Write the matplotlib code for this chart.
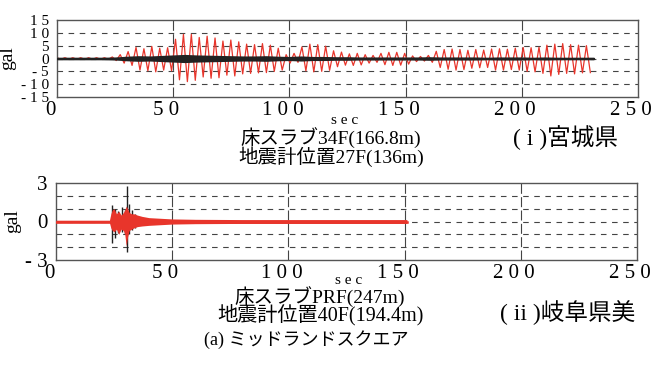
import numpy as np
import matplotlib
matplotlib.use("Agg")
import matplotlib.pyplot as plt
from matplotlib.transforms import ScaledTranslation

# (i) 34F slab: red = slab response, peaks per cycle (gal)
RED_PERIOD = 3.4
red_up = [0.3, 0.3, 0.3, 0.3, 0.3, 0.3, 0.3, 0.6, 1.5, 2.7,
          4.3, 3.8, 4.7, 4.0, 4.2, 7.5, 9.4, 9.4, 8.2, 8.7,
          8.0, 6.8, 7.2, 6.5, 5.6, 5.4, 5.8, 5.2, 4.0, 1.5,
          2.0, 4.5, 5.6, 5.4, 4.8, 3.0, 2.5, 1.8, 2.0, 1.5,
          1.2, 2.0, 2.4, 2.4, 2.0, 1.0, 0.8, 1.2, 2.8, 3.5,
          3.7, 3.5, 3.2, 3.5, 3.3, 3.7, 3.8, 3.6, 4.0, 4.3,
          4.2, 4.4, 5.2, 5.6, 5.8, 5.4, 5.2, 5.0]
red_dn = [0.3, 0.3, 0.3, 0.3, 0.3, 0.3, 0.3, 0.8, 1.8, 2.7,
          4.5, 4.8, 5.2, 4.5, 4.8, 8.3, 9.0, 8.5, 7.2, 7.7,
          7.5, 6.5, 6.8, 6.0, 5.8, 5.6, 5.5, 5.0, 4.5, 1.8,
          1.5, 4.8, 5.2, 5.0, 4.6, 3.2, 2.6, 2.7, 2.5, 1.8,
          1.5, 2.4, 2.7, 2.6, 2.2, 1.2, 1.0, 1.5, 3.5, 4.2,
          4.5, 4.3, 3.8, 3.6, 3.5, 4.5, 4.5, 4.3, 4.5, 5.0,
          5.2, 5.8, 6.8, 6.2, 5.8, 6.0, 5.6, 5.5]

# (i) seismometer trace: envelope every 5 s (gal)
blk1_t = [0, 5, 10, 15, 20, 25, 30, 35, 40, 45, 50, 55, 60, 65, 70, 75,
          80, 85, 90, 95, 100, 105, 110, 115, 120, 125, 130, 135, 140,
          145, 150, 155, 160, 165, 170, 175, 180, 185, 190, 195, 200,
          205, 210, 215, 220, 225, 231]
blk1_env = [0.5, 0.5, 0.5, 0.5, 0.5, 0.6, 0.9, 1.1, 1.0, 1.2, 1.4, 1.6,
            1.4, 1.3, 1.2, 1.1, 1.0, 1.0, 1.1, 0.9, 0.8, 1.0, 0.8, 0.8,
            0.7, 0.7, 0.6, 0.6, 0.6, 0.6, 0.6, 0.6, 0.7, 0.6, 0.6, 0.6,
            0.6, 0.5, 0.6, 0.6, 0.6, 0.5, 0.6, 0.5, 0.5, 0.5, 0.5]

# (ii) PRF slab: red envelope (gal)
red2_t = [0, 23, 23.6, 24.2, 25, 26, 27, 28, 29, 29.6, 30.2, 30.8, 31.5,
          32.5, 33.5, 35, 37, 40, 45, 50, 60, 80, 100, 120, 151]
red2_up = [0.1, 0.1, 0.6, 0.9, 1.0, 0.6, 0.8, 0.5, 0.7, 0.9, 1.2, 1.0, 0.7,
           0.6, 0.6, 0.5, 0.4, 0.3, 0.25, 0.2, 0.17, 0.15, 0.15, 0.15, 0.15]
red2_dn = [0.1, 0.1, 0.5, 0.7, 0.8, 0.6, 1.0, 0.6, 0.7, 1.0, 1.9, 1.2, 0.7,
           0.6, 0.5, 0.4, 0.35, 0.3, 0.25, 0.2, 0.17, 0.15, 0.15, 0.15, 0.15]

# (ii) seismometer spikes
blk2_t = [24.3, 25.2, 26.5, 28.3, 29.5, 30.6, 31.3, 32.5, 34.0]
blk2_up = [1.3, 1.0, 0.8, 1.1, 0.9, 2.8, 1.4, 0.9, 0.6]
blk2_dn = [-1.7, -1.3, -0.9, -0.8, -1.0, -2.4, -1.0, -0.7, -0.5]

xticks = [0, 50, 100, 150, 200, 250]
xlabels = ["0", "5 0", "1 0 0", "1 5 0", "2 0 0", "2 5 0"]

SERIF = "Liberation Serif"
MIXED = ["Liberation Serif", "Noto Sans CJK JP"]
RED = "#e8352b"
INK = "#222222"


def style_axes(ax, fig, ylim, yticks, ylabels, ystep, ysize):
    ax.set_xlim(0, 250)
    ax.set_ylim(*ylim)
    for y in np.arange(ylim[0] + ystep, ylim[1], ystep):
        ax.axhline(y, color="#444444", lw=0.8, dashes=(5, 5), zorder=1)
    for x in xticks[1:-1]:
        ax.axvline(x, color="#444444", lw=0.8, dashes=(9, 3), zorder=1)
    for s in ax.spines.values():
        s.set_color("#555555")
        s.set_linewidth(1.0)
    ax.set_xticks(xticks)
    ax.set_xticklabels(xlabels, fontfamily=SERIF, fontsize=15)
    ax.set_yticks(yticks)
    ax.set_yticklabels(ylabels, fontfamily=SERIF, fontsize=ysize)
    ax.tick_params(axis="x", length=0, pad=3)
    ax.tick_params(axis="y", length=0, pad=6)
    shift = ScaledTranslation(-5 / 72, 0, fig.dpi_scale_trans)
    for lab in ax.get_xticklabels():
        lab.set_transform(lab.get_transform() + shift)
    ax.set_ylabel("gal", fontfamily=SERIF, fontsize=14, labelpad=3)


def main():
    fig = plt.figure(figsize=(6.52, 3.74), dpi=100)
    ax1 = fig.add_axes([57 / 652, 1 - 97 / 374, 581 / 652, 77 / 374])
    ax2 = fig.add_axes([56 / 652, 1 - 260 / 374, 581 / 652, 77 / 374])

    # top panel: zigzag through the read peaks, seismometer band on top
    n = len(red_up)
    t_up = np.arange(n) * RED_PERIOD
    t_zz = np.empty(2 * n)
    v_zz = np.empty(2 * n)
    t_zz[0::2] = t_up
    t_zz[1::2] = t_up + RED_PERIOD / 2
    v_zz[0::2] = red_up
    v_zz[1::2] = -np.array(red_dn)
    ax1.plot(t_zz, v_zz, color=RED, lw=0.9, zorder=2)
    env = np.array(blk1_env)
    ax1.fill_between(blk1_t, -env, env, color=INK, lw=0, zorder=3)
    ax1.plot(blk1_t, np.zeros(len(blk1_t)), color=INK, lw=1.5, zorder=3)
    style_axes(ax1, fig, (-15, 15), [15, 10, 5, 0, -5, -10, -15],
               ["1 5", "1 0", "5", "0", "- 5", "- 1 0", "- 1 5"], 5, 11)

    # bottom panel
    ax2.vlines(blk2_t, blk2_dn, blk2_up, color=INK, lw=1.0, zorder=2)
    ax2.fill_between(red2_t, -np.array(red2_dn), red2_up, color=RED, lw=0, zorder=3)
    ax2.plot(red2_t, np.zeros(len(red2_t)), color=RED, lw=1.8, zorder=3)
    style_axes(ax2, fig, (-3, 3), [3, 0, -3], ["3", "0", "- 3"], 1, 15)

    def put(x, y, s, size, family=MIXED, ha="center"):
        fig.text(x / 652, 1 - y / 374, s, fontsize=size, family=family,
                 ha=ha, va="center")

    put(345, 121, "s e c", 11, SERIF)
    put(331, 138, "床スラブ34F(166.8m)", 14)
    put(331, 157, "地震計位置27F(136m)", 14)
    put(513, 138, "( i )宮城県", 17, ha="left")

    put(349, 280, "s e c", 11, SERIF)
    put(320, 297, "床スラブPRF(247m)", 14)
    put(321, 315, "地震計位置40F(194.4m)", 14.5)
    put(500, 313, "( ii )岐阜県美", 17, ha="left")
    put(306, 340, "(a) ミッドランドスクエア", 13)

    fig.savefig("out.png", dpi=100)
    plt.close(fig)


if __name__ == "__main__":
    main()
